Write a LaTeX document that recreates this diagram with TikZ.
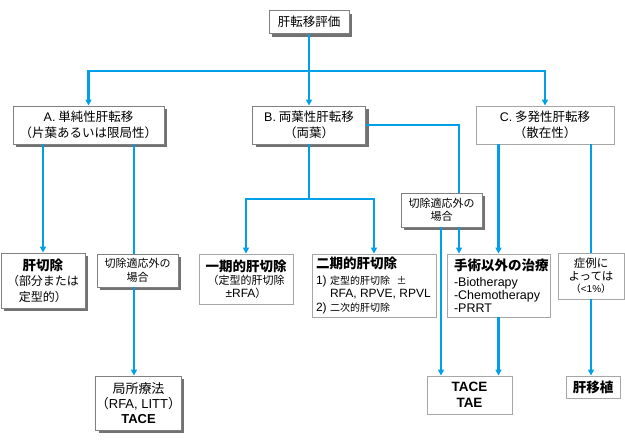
\documentclass[tikz,border=0pt]{standalone}
\usepackage{fontspec}
\setmainfont{Noto Sans CJK JP}
\newfontfamily\lat{Liberation Sans}
\usetikzlibrary{arrows.meta,shadows}
\definecolor{flow}{RGB}{0,160,233}
\newcommand\myfs[2]{\fontsize{#1}{#2}\selectfont}
\begin{document}
\begin{tikzpicture}[x=1pt,y=-1pt,
  box/.style={draw=black!35, fill=white, line width=0.9pt, inner sep=0pt, align=center},
  sbox/.style={box, draw=black!50, drop shadow={shadow xshift=3pt, shadow yshift=-3pt, fill=black!65, opacity=0.85}},
  link/.style={draw=flow, line width=2.2pt},
  arr/.style={link, -{Triangle[length=6pt,width=6pt]}},
]
\useasboundingbox (0,0) rectangle (625,440);
% boxes
\node[sbox, minimum width=80pt, minimum height=23pt, font=\myfs{12.5}{15}] (top) at (309,22) {肝転移評価};
\node[sbox, minimum width=151pt, minimum height=38pt, font=\myfs{12.5}{16.5}] (A) at (88.5,125) {{\lat A.} 単純性肝転移\\（片葉あるいは限局性）};
\node[sbox, minimum width=113pt, minimum height=38pt, font=\myfs{12.5}{16.5}] (B) at (309,125) {{\lat B.} 両葉性肝転移\\（両葉）};
\node[box, minimum width=138pt, minimum height=38pt, font=\myfs{12.5}{16.5}] (C) at (545,125) {{\lat C.} 多発性肝転移\\（散在性）};
\node[sbox, minimum width=84pt, minimum height=55pt, font=\myfs{12}{15.5}] (K1) at (43,280.5) {{\myfs{13.5}{15.5}\bfseries 肝切除}\\（部分または\\定型的）};
\node[sbox, minimum width=81pt, minimum height=33pt, font=\myfs{11}{13.5}] (NA1) at (137.5,270.5) {切除適応外の\\場合};
\node[box, minimum width=94pt, minimum height=50pt, font=\myfs{11}{13}] (P1) at (246,279) {{\myfs{13.5}{15}\bfseries 一期的肝切除}\\（定型的肝切除\\{\lat\myfs{12}{13}±RFA}）};
\node[box, minimum width=124pt, minimum height=63pt, text width=116pt, inner xsep=4pt, align=left, font=\myfs{10}{13.5}] (P2) at (374,285.5) {\mbox{\myfs{13.5}{16}\bfseries 二期的肝切除}\\[2pt]\mbox{{\lat\myfs{12}{13.5}1)} 定型的肝切除\ \ ±}\\\mbox{\hspace*{14pt}{\lat\myfs{12}{13.5}RFA, RPVE, RPVL}}\\\mbox{{\lat\myfs{12}{13.5}2)} 二次的肝切除}};
\node[sbox, minimum width=81pt, minimum height=34pt, font=\myfs{11}{13.5}] (NA2) at (441.5,210) {切除適応外の\\場合};
\node[box, minimum width=103pt, minimum height=63pt, text width=89pt, inner xsep=7pt, align=left, font=\lat\myfs{12.5}{13}] (NS) at (498.5,285.5) {\mbox{\rmfamily\myfs{13.5}{15}\bfseries 手術以外の治療}\\[3pt]-Biotherapy\\-Chemotherapy\\-PRRT};
\node[box, minimum width=66pt, minimum height=46pt, font=\myfs{11.5}{12.5}] (CS) at (591,276) {症例に\\よっては\\{\myfs{10}{12}（{\lat <1\%}）}};
\node[sbox, minimum width=83pt, minimum height=54pt, font=\myfs{13}{15}] (LT) at (138.5,403) {局所療法\\（{\lat RFA, LITT}）\\{\lat\bfseries TACE}};
\node[box, minimum width=85pt, minimum height=38pt, font=\lat\bfseries\myfs{13.5}{15.5}] (TT) at (469.5,395) {TACE\\TAE};
\node[box, minimum width=54pt, minimum height=22pt, font=\bfseries\myfs{13.5}{15}] (LTx) at (593,387) {肝移植};
% junction coordinates
\coordinate (bus) at (309,71);
\coordinate (busB) at (309,199);
\coordinate (xa) at (134,0);
\coordinate (xb) at (459,0);
\coordinate (xt) at (441,0);
% connectors
\draw[link] (top.south) -- (bus);
\draw[arr] (bus) -| (A.north);
\draw[arr] (bus) -- (B.north);
\draw[arr] (bus) -| (C.north);
\draw[arr] (K1 |- A.south) -- (K1.north);
\draw[link] (A.south -| xa) -- (NA1.north -| xa);
\draw[arr] (NA1.south -| xa) -- (LT.north -| xa);
\draw[link] (B.south) -- (busB);
\draw[arr] (busB) -| (P1.north);
\draw[arr] (busB) -| (P2.north);
\draw[link] (B.east) -- (B.east -| xb) -- (NA2.north -| xb);
\draw[arr] (NA2.south -| xb) -- (NS.north -| xb);
\draw[arr] (NA2.south -| xt) -- (TT.north -| xt);
\draw[arr] (NS |- C.south) -- (NS.north);
\draw[link] (CS |- C.south) -- (CS.north);
\draw[arr] (CS.south) -- (CS.south |- LTx.north);
\draw[arr] (NS.south) -- (NS.south |- TT.north);
\end{tikzpicture}
\end{document}
